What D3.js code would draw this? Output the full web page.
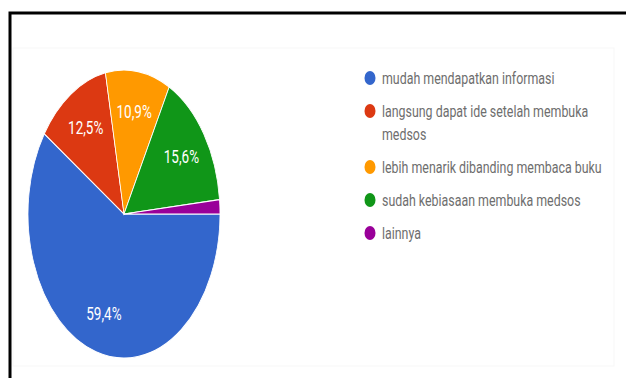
<!DOCTYPE html>
<html>
<head>
<meta charset="utf-8">
<script src="https://cdn.jsdelivr.net/npm/d3@7"></script>
<style>
  body { margin: 0; background: #fff; }
  svg { display: block; }
  .legendText { font-family: Roboto, sans-serif; font-size: 12.4px; fill: #6e6e6e; }
  .sliceLabel { font-family: Roboto, sans-serif; font-size: 13.5px; fill: #fff; }
</style>
</head>
<body>
<div id="chart"></div>
<script>
// Data
var categories = [
    'mudah mendapatkan informasi',
    'langsung dapat ide setelah membuka medsos',
    'lebih menarik dibanding membaca buku',
    'sudah kebiasaan membuka medsos',
    'lainnya'
];
var legendLines = [
    ['mudah mendapatkan informasi'],
    ['langsung dapat ide setelah membuka', 'medsos'],
    ['lebih menarik dibanding membaca buku'],
    ['sudah kebiasaan membuka medsos'],
    ['lainnya']
];
var values = [59.4, 12.5, 10.9, 15.6, 1.6];
var labels = ['59,4%', '12,5%', '10,9%', '15,6%', ''];
var colors = ['#3366cc', '#dc3912', '#ff9900', '#109618', '#990099'];

var width = 626, height = 378;
var cx = 124, cy = 214, R = 96, stretch = 1.5;

var svg = d3.select('#chart')
            .append('svg')
            .attr('width', width)
            .attr('height', height);

// faint card outline
svg.append('rect')
   .attr('x', 13).attr('y', 48)
   .attr('width', 601).attr('height', 318)
   .attr('fill', 'none')
   .attr('stroke', '#f7f7f7');

// black frame (top and left only)
svg.append('path')
   .attr('d', 'M10,378 V13 H626')
   .attr('fill', 'none')
   .attr('stroke', '#000')
   .attr('stroke-width', 3);

var pie = d3.pie()
            .sort(null)
            .startAngle(Math.PI / 2)
            .endAngle(Math.PI / 2 + 2 * Math.PI)
            .value(function (d) { return d; });

var arcs = pie(values);

var arc = d3.arc().innerRadius(0).outerRadius(R);
var labelArc = d3.arc().innerRadius(R * 0.72).outerRadius(R * 0.72);

var pieG = svg.append('g')
              .attr('transform', 'translate(' + cx + ',' + cy + ') scale(1,' + stretch + ')');

pieG.selectAll('path')
    .data(arcs)
    .enter()
    .append('path')
    .attr('d', arc)
    .attr('fill', function (d, i) { return colors[i]; })
    .attr('stroke', '#fff')
    .attr('stroke-width', 0.8);

svg.selectAll('.sliceLabel')
   .data(arcs)
   .enter()
   .append('text')
   .attr('class', 'sliceLabel')
   .attr('text-anchor', 'middle')
   .attr('transform', function (d) {
       var c = labelArc.centroid(d);
       return 'translate(' + (cx + c[0]) + ',' + (cy + c[1] * stretch) + ') scale(1,1.35)';
   })
   .attr('dy', '0.35em')
   .text(function (d, i) { return labels[i]; });

// Legend
var legendX = 370, lineGap = 23, itemGap = 33;
var y = 78;
legendLines.forEach(function (lines, i) {
    var g = svg.append('g').attr('class', 'legendItem');
    g.append('ellipse')
     .attr('cx', legendX).attr('cy', y)
     .attr('rx', 5.5).attr('ry', 7)
     .attr('fill', colors[i]);
    lines.forEach(function (t, j) {
        g.append('text')
         .attr('class', 'legendText')
         .attr('transform', 'translate(' + (legendX + 12) + ',' + (y + j * lineGap) + ') scale(1,1.35)')
         .attr('dy', '0.35em')
         .text(t);
    });
    y += (lines.length - 1) * lineGap + itemGap;
});
</script>
</body>
</html>
